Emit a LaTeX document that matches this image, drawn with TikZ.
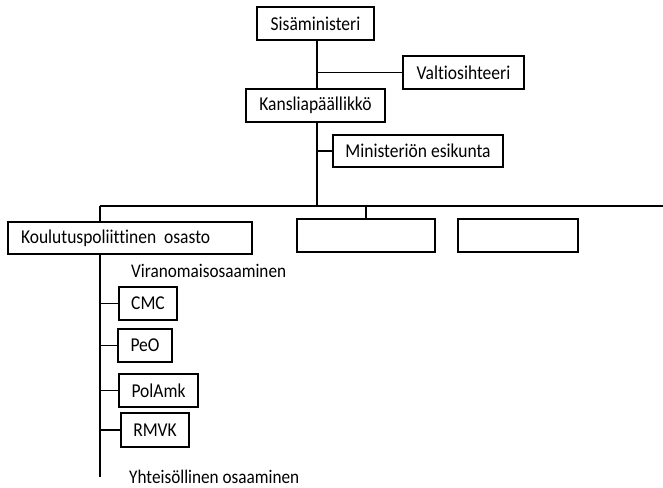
\documentclass[tikz,border=0pt]{standalone}
\usepackage{fontspec}
\setmainfont{Carlito}[Ligatures=NoCommon]
\newcommand{\tall}[1]{\scalebox{1}[1.12]{#1}}
\begin{document}
\begin{tikzpicture}[x=1pt,y=-1pt,
  box/.style={draw, line width=1.5pt, inner sep=0pt, font=\fontsize{17.5}{20}\selectfont},
  conn/.style={line width=1.5pt},
  lbl/.style={inner sep=0pt, anchor=base west, font=\fontsize{17.2}{20}\selectfont}]
\useasboundingbox (0,0) rectangle (663,487);
\node[box, minimum width=117, minimum height=33] (sis) at (315.5,23.5) {\tall{Sisäministeri}};
\node[box, minimum width=121, minimum height=33] (val) at (463.5,72.5) {\tall{Valtiosihteeri}};
\node[box, minimum width=139, minimum height=33] (kan) at (315.5,105.5) {\tall{Kansliapäällikkö}};
\node[box, minimum width=170, minimum height=32] (min) at (418,151) {\tall{Ministeriön esikunta}};
\node[box, minimum height=32, text width=218, inner xsep=13pt, align=left] (kou) at (130,238) {\tall{Koulutuspoliittinen\hspace{0.45em}osasto}};
\node[box, minimum width=138, minimum height=33] (b2) at (366,235.5) {};
\node[box, minimum width=120, minimum height=33] (b3) at (518,235.5) {};
\node[box, minimum width=58, minimum height=33] (cmc) at (148,303.5) {\tall{CMC}};
\node[box, minimum width=54, minimum height=33] (peo) at (145,345.5) {\tall{PeO}};
\node[box, minimum width=79, minimum height=33] (pol) at (158.5,390.5) {\tall{PolAmk}};
\node[box, minimum width=68, minimum height=34] (rmvk) at (155,430) {\tall{RMVK}};
\node[lbl] (vir) at (131,277) {\tall{Viranomaisosaaminen}};
\node[lbl] (yht) at (129,483) {\tall{Yhteisöllinen osaaminen}};
\coordinate (t1) at (317,40);
\coordinate (t2) at (317,89);
\coordinate (t3) at (317,122);
\coordinate (hj) at (317,206);
\coordinate (hl) at (100,206);
\coordinate (hr) at (663,206);
\coordinate (s1) at (100,254);
\coordinate (s2) at (100,477);
\draw[conn] (t1) -- (t2);
\draw[conn] (val.west -| t1) -- (val.west);
\draw[conn] (t3) -- (hj);
\draw[conn] (min.west -| t1) -- (min.west);
\draw[conn] (hl) -- (hr);
\draw[conn] (hl) -- (kou.north -| hl);
\draw[conn] (b2.north |- hl) -- (b2.north);
\draw[conn] (s1) -- (s2);
\draw[conn] (cmc.west -| s1) -- (cmc.west);
\draw[conn] (peo.west -| s1) -- (peo.west);
\draw[conn] (pol.west -| s1) -- (pol.west);
\draw[conn] (rmvk.west -| s1) -- (rmvk.west);
\end{tikzpicture}
\end{document}
